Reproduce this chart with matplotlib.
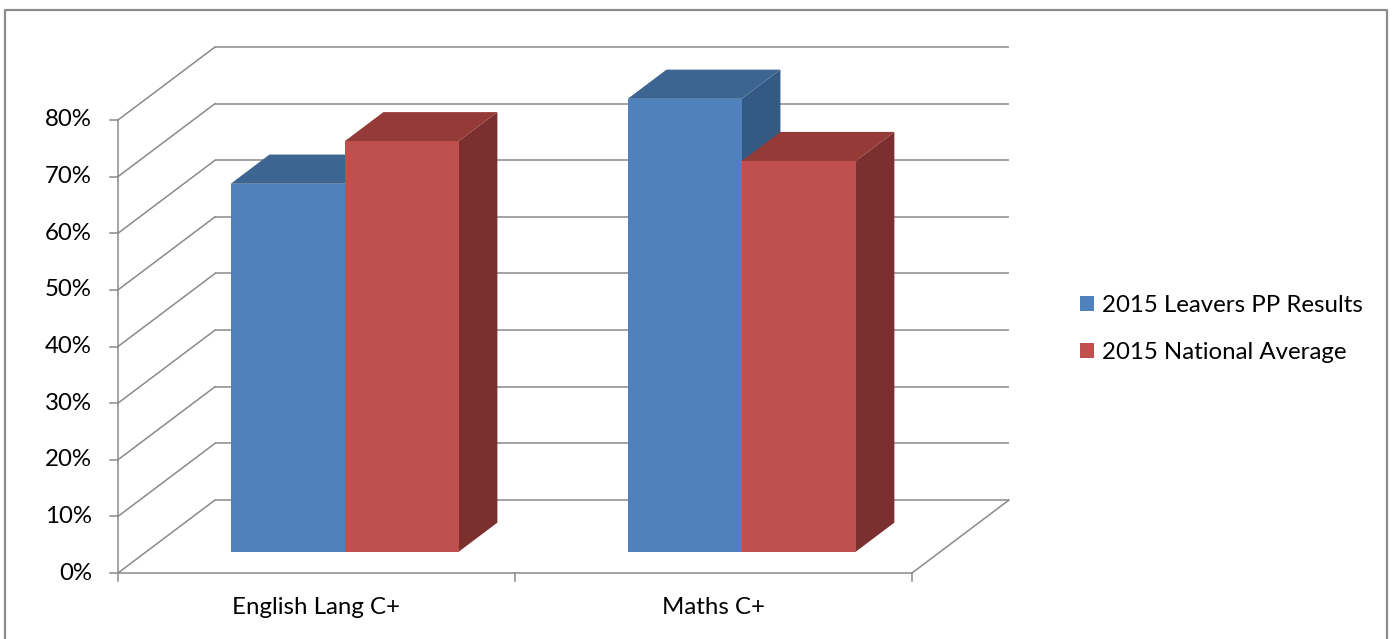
import matplotlib
matplotlib.use("Agg")
import matplotlib.pyplot as plt
from matplotlib.patches import Polygon, Patch
from matplotlib.lines import Line2D

# ---- data ----
categories = ["English Lang C+", "Maths C+"]
series_names = ["2015 Leavers PP Results", "2015 National Average"]
pp_results = [0.65, 0.80]      # English, Maths
national_avg = [0.725, 0.69]   # English, Maths
tick_values = [0.0, 0.1, 0.2, 0.3, 0.4, 0.5, 0.6, 0.7, 0.8]
tick_labels = ["0%", "10%", "20%", "30%", "40%", "50%", "60%", "70%", "80%"]

# ---- styling ----
face_cols = {
    0: ("#4F81BD", "#3D6591", "#345A84"),   # front, top, side
    1: ("#C0504D", "#943B38", "#7B2F2E"),
}
GRID = "#8A8A8A"
FONT = "Lato"
FS = 17.3

W, H, DPI = 1397, 639, 100
fig = plt.figure(figsize=(W / DPI, H / DPI), dpi=DPI)
ax = fig.add_axes([0, 0, 1, 1])
ax.set_axis_off()

# plot area mapping (pixels) -> data units
x0_px, x_per_cat = 118, 397.0
y0_px, y_per_unit = 573, 566.25
ax.set_xlim(-x0_px / x_per_cat, (W - x0_px) / x_per_cat)
ax.set_ylim(-(H - y0_px) / y_per_unit, y0_px / y_per_unit)

# oblique depth offset in data units
DX = 97 / x_per_cat
DY = 73 / y_per_unit
ymax = tick_values[-1]
ncat = len(categories)

lw = 1.1
# back wall gridlines and side wall diagonals
for v in tick_values:
    ax.plot([DX, ncat + DX], [v + DY, v + DY], color=GRID, lw=lw, solid_capstyle="butt", zorder=1)
    ax.plot([0, DX], [v, v + DY], color=GRID, lw=lw, zorder=1)
# floor front edge (category axis) and right edge
ax.plot([0, ncat], [0, 0], color=GRID, lw=lw, zorder=1)
ax.plot([ncat, ncat + DX], [0, DY], color=GRID, lw=lw, zorder=1)
# value axis
ax.plot([0, 0], [0, ymax], color=GRID, lw=lw, zorder=1)
tick_dx = 8 / x_per_cat
tick_dy = 8 / y_per_unit
for v, lab in zip(tick_values, tick_labels):
    ax.plot([-tick_dx, 0], [v, v], color=GRID, lw=lw, zorder=1)
    ax.text(-26 / x_per_cat, v, lab, ha="right", va="center",
            fontsize=FS, family=FONT, color="black")
for i in range(ncat + 1):
    ax.plot([i, i], [0, -tick_dy], color=GRID, lw=lw, zorder=1)
for i, c in enumerate(categories):
    ax.text(i + 0.5, -34 / y_per_unit, c, ha="center", va="center",
            fontsize=FS, family=FONT, color="black")

# bars
bar_w = 0.287
d0, d1 = 0.29, 0.69
series = [pp_results, national_avg]
z = 5
for i in range(ncat):
    for s, vals in enumerate(series):
        v = vals[i]
        xl = i + 0.5 - bar_w + s * bar_w
        xr = xl + bar_w
        ox, oy = d0 * DX, d0 * DY
        ex, ey = (d1 - d0) * DX, (d1 - d0) * DY
        front_c, top_c, side_c = face_cols[s]
        front = [(xl + ox, oy), (xr + ox, oy), (xr + ox, v + oy), (xl + ox, v + oy)]
        top = [(xl + ox, v + oy), (xr + ox, v + oy), (xr + ox + ex, v + oy + ey), (xl + ox + ex, v + oy + ey)]
        side = [(xr + ox, oy), (xr + ox + ex, oy + ey), (xr + ox + ex, v + oy + ey), (xr + ox, v + oy)]
        ax.add_patch(Polygon(side, closed=True, facecolor=side_c, edgecolor="none", zorder=z))
        ax.add_patch(Polygon(top, closed=True, facecolor=top_c, edgecolor="none", zorder=z))
        ax.add_patch(Polygon(front, closed=True, facecolor=front_c, edgecolor="none", zorder=z))
        z += 1

# legend
handles = [Patch(facecolor=face_cols[s][0], edgecolor="none") for s in range(2)]
leg = fig.legend(handles, series_names, loc="center left",
                 bbox_to_anchor=(1080 / W, 1 - 329 / H), frameon=False,
                 prop={"family": FONT, "size": FS},
                 handlelength=0.6, handleheight=0.6, handletextpad=0.3,
                 labelspacing=1.08, borderpad=0, borderaxespad=0)

# chart border
fig.add_artist(Line2D([5 / W, 5 / W, 1387 / W, 1387 / W], [-0.05, 1 - 10 / H, 1 - 10 / H, -0.05],
                      transform=fig.transFigure, color="#8C8C8C", lw=1.6))

fig.savefig("out.png", dpi=DPI)
